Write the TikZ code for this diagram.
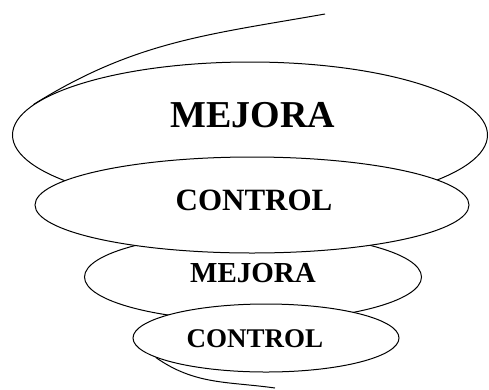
\documentclass[tikz,border=0pt]{standalone}
\usepackage{fontspec}
\setmainfont{Liberation Serif}
\usetikzlibrary{shapes.geometric,positioning}

\begin{document}
\begin{tikzpicture}[
  x=1pt, y=-1pt,
  spire/.style={ellipse, draw=black, fill=white, line width=1pt, inner sep=0pt},
  word/.style={inner sep=0pt, anchor=base},
  tail/.style={draw=black, line width=1pt}
]
  \useasboundingbox (0,0) rectangle (489,389);

  % spiral, back to front
  \node[spire, minimum width=475pt, minimum height=146pt] (mejoraA) at (250,135) {};
  \coordinate (spiraltop) at (325,14);
  \draw[tail] (mejoraA.172) to[out=32,in=190] (spiraltop);

  \node[spire, minimum width=337pt, minimum height=88pt] (mejoraB) at (253,277) {};
  \node[spire, minimum width=434pt, minimum height=96pt] (controlA) at (252,205) {};
  \node[spire, minimum width=266pt, minimum height=68pt] (controlB) at (266,338) {};
  \coordinate (spiralend) at (275,388);
  \draw[tail] (controlB.190) to[out=-35,in=172] (spiralend);

  % labels
  \node[word, font=\bfseries\fontsize{38}{40}\selectfont] (txtmejoraA) at (253,127) {MEJORA};
  \node[word, font=\bfseries\fontsize{31}{33}\selectfont] (txtcontrolA) at (254,210) {CONTROL};
  \node[word, font=\bfseries\fontsize{29}{31}\selectfont] (txtmejoraB) at (253,282) {MEJORA};
  \node[word, font=\bfseries\fontsize{27}{29}\selectfont] (txtcontrolB) at (255,347) {CONTROL};
\end{tikzpicture}
\end{document}
